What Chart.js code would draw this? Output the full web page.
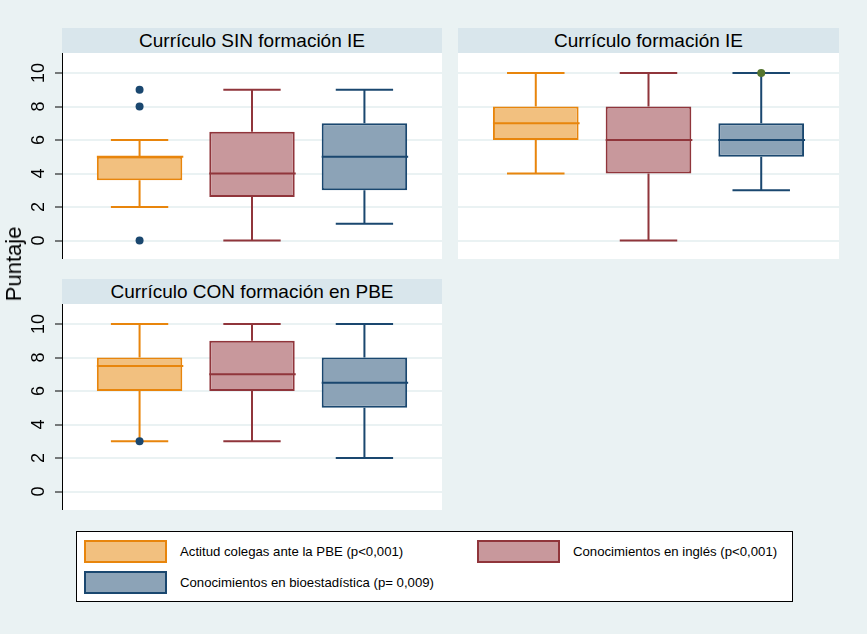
<!DOCTYPE html>
<html>
<head>
<meta charset="utf-8">
<script src="https://cdn.jsdelivr.net/npm/chart.js@4.4.0/dist/chart.umd.min.js"></script>
<style>
    body { margin: 0; width: 867px; height: 634px; background: #eaf2f3; position: relative; overflow: hidden;
           font-family: "Liberation Sans", Arial, sans-serif; }
    .strip { position: absolute; height: 25px; background: #d9e6ec; text-align: center; font-size: 19px; line-height: 25px; color: #000; }
    .plot { position: absolute; }
    #ytitle { position: absolute; left: 14px; top: 264px; transform: translate(-50%, -50%) rotate(-90deg); font-size: 22px; white-space: nowrap; }
    #legend { position: absolute; left: 76px; top: 531px; width: 717px; height: 71px; background: #fff; border: 1px solid #000; box-sizing: border-box; font-size: 13.2px; }
    .item { position: absolute; display: flex; align-items: center; }
    .swatch { width: 83px; height: 23px; border: 2px solid; box-sizing: border-box; margin-right: 13px; }
</style>
</head>
<body>
<div class="strip" id="t1" style="left:62px;top:28px;width:380px"></div>
<div class="strip" id="t2" style="left:458px;top:28px;width:381px"></div>
<div class="strip" id="t3" style="left:62px;top:279px;width:380px"></div>
<div class="plot" style="left:0;top:53px;width:442px;height:206px"><canvas id="c1"></canvas></div>
<div class="plot" style="left:458px;top:53px;width:381px;height:206px"><canvas id="c2"></canvas></div>
<div class="plot" style="left:0;top:304px;width:442px;height:206px"><canvas id="c3"></canvas></div>
<div id="ytitle">Puntaje</div>
<div id="legend"></div>
<script>
// Series and panels
const series = ['Actitud colegas ante la PBE (p<0,001)', 'Conocimientos en inglés (p<0,001)', 'Conocimientos en bioestadística (p= 0,009)'];
const panelTitles = ['Currículo SIN formación IE', 'Currículo formación IE', 'Currículo CON formación en PBE'];
const yTicks = [0, 2, 4, 6, 8, 10];
const positions = [1, 2, 3];

// Currículo SIN formación IE
const sinLow = [2, 0, 1];
const sinQ1 = [3.6, 2.6, 3];
const sinMed = [5, 4, 5];
const sinQ3 = [5, 6.5, 7];
const sinHigh = [6, 9, 9];
const sinOut = [[0, 8, 9], [], []];

// Currículo formación IE
const ieLow = [4, 0, 3];
const ieQ1 = [6, 4, 5];
const ieMed = [7, 6, 6];
const ieQ3 = [8, 8, 7];
const ieHigh = [10, 10, 10];
const ieOut = [[], [], [10]];

// Currículo CON formación en PBE
const conLow = [3, 3, 2];
const conQ1 = [6, 6, 5];
const conMed = [7.5, 7, 6.5];
const conQ3 = [8, 9, 8];
const conHigh = [10, 10, 10];
const conOut = [[3], [], []];

// Colours
const fills = ['#f2c07f', '#c8989c', '#8ca3b7'];
const lines = ['#e8850c', '#90353b', '#1a476f'];
const outColors = ['#1a476f', '#90353b', '#55752f'];
const capWidth = 0.51;

// White plot region, then whiskers and medians drawn from the scales after each box
const whiskerPlugin = {
    id: 'whiskers',
    beforeDraw(chart) {
        const a = chart.chartArea;
        chart.ctx.save();
        chart.ctx.fillStyle = '#fff';
        chart.ctx.fillRect(a.left, a.top, a.right - a.left, a.bottom - a.top);
        chart.ctx.restore();
    },
    afterDatasetDraw(chart, args) {
        const ds = chart.data.datasets[args.index];
        if (!ds.stats) return;
        const { ctx, scales: { x, y } } = chart;
        const s = ds.stats;
        const el = args.meta.data[0];
        const cx = el.x;
        const half = el.width / 2;
        const capHalf = (x.getPixelForValue(s.pos + capWidth / 2) - x.getPixelForValue(s.pos - capWidth / 2)) / 2;
        const yLow = y.getPixelForValue(s.low);
        const yHigh = y.getPixelForValue(s.high);
        const yMed = y.getPixelForValue(s.med);
        ctx.save();
        ctx.strokeStyle = ds.borderColor;
        ctx.lineWidth = 2;
        ctx.beginPath();
        ctx.moveTo(cx, y.getPixelForValue(s.q3));
        ctx.lineTo(cx, yHigh);
        ctx.moveTo(cx - capHalf, yHigh);
        ctx.lineTo(cx + capHalf, yHigh);
        ctx.moveTo(cx, y.getPixelForValue(s.q1));
        ctx.lineTo(cx, yLow);
        ctx.moveTo(cx - capHalf, yLow);
        ctx.lineTo(cx + capHalf, yLow);
        ctx.moveTo(cx - half, yMed);
        ctx.lineTo(cx + half + 1, yMed);
        ctx.stroke();
        ctx.restore();
    }
};

function makePanel(id, low, q1, med, q3, high, out, showY) {
    const boxes = series.map((name, i) => ({
        type: 'bar',
        label: name,
        order: 1,
        data: [{ x: positions[i], y: [q1[i], q3[i]] }],
        stats: { pos: positions[i], low: low[i], q1: q1[i], med: med[i], q3: q3[i], high: high[i] },
        backgroundColor: fills[i],
        borderColor: lines[i],
        borderWidth: 2,
        borderSkipped: false,
        grouped: false,
        barPercentage: 0.76,
        categoryPercentage: 1
    }));
    const outliers = series.map((name, i) => ({
        type: 'scatter',
        label: name,
        order: 0,
        data: out[i].map(v => ({ x: positions[i], y: v })),
        pointRadius: 4,
        pointBackgroundColor: outColors[i],
        pointBorderWidth: 0
    }));

    return new Chart(document.getElementById(id), {
        type: 'bar',
        data: { datasets: [...outliers, ...boxes] },
        options: {
            responsive: true,
            maintainAspectRatio: false,
            animation: false,
            layout: { padding: 0, autoPadding: false },
            plugins: { legend: { display: false }, tooltip: { enabled: false } },
            scales: {
                x: {
                    type: 'linear',
                    min: 0.31,
                    max: 3.69,
                    offset: false,
                    afterBuildTicks: (scale) => { scale.ticks = positions.map(v => ({ value: v })); },
                    grid: { display: false, drawTicks: false, offset: false },
                    ticks: { display: false },
                    border: { display: true, color: '#000', width: 1 }
                },
                y: {
                    type: 'linear',
                    min: -1.1,
                    max: 11.2,
                    afterBuildTicks: (scale) => { scale.ticks = yTicks.map(v => ({ value: v })); },
                    afterFit: (scale) => {
                        scale.width = showY ? 62 : 0;
                        scale.paddingTop = 0;
                        scale.paddingBottom = 0;
                    },
                    grid: { color: '#eaf2f3', lineWidth: 2, drawTicks: showY, tickLength: 7, tickColor: '#000', tickWidth: 1 },
                    border: { display: showY, color: '#000', width: 1 },
                    ticks: {
                        display: showY,
                        minRotation: 90,
                        maxRotation: 90,
                        crossAlign: 'center',
                        padding: 6,
                        color: '#000',
                        font: { family: '"Liberation Sans", Arial, sans-serif', size: 18 }
                    }
                }
            }
        },
        plugins: [whiskerPlugin]
    });
}

document.getElementById('t1').textContent = panelTitles[0];
document.getElementById('t2').textContent = panelTitles[1];
document.getElementById('t3').textContent = panelTitles[2];

makePanel('c1', sinLow, sinQ1, sinMed, sinQ3, sinHigh, sinOut, true);
makePanel('c2', ieLow, ieQ1, ieMed, ieQ3, ieHigh, ieOut, false);
makePanel('c3', conLow, conQ1, conMed, conQ3, conHigh, conOut, true);

// Legend
const legendSpots = [[7, 8], [400, 8], [7, 39]];
const legend = document.getElementById('legend');
series.forEach((name, i) => {
    const item = document.createElement('div');
    item.className = 'item';
    item.style.left = legendSpots[i][0] + 'px';
    item.style.top = legendSpots[i][1] + 'px';
    const sw = document.createElement('div');
    sw.className = 'swatch';
    sw.style.background = fills[i];
    sw.style.borderColor = lines[i];
    const label = document.createElement('span');
    label.textContent = name;
    item.appendChild(sw);
    item.appendChild(label);
    legend.appendChild(item);
});
</script>
</body>
</html>
